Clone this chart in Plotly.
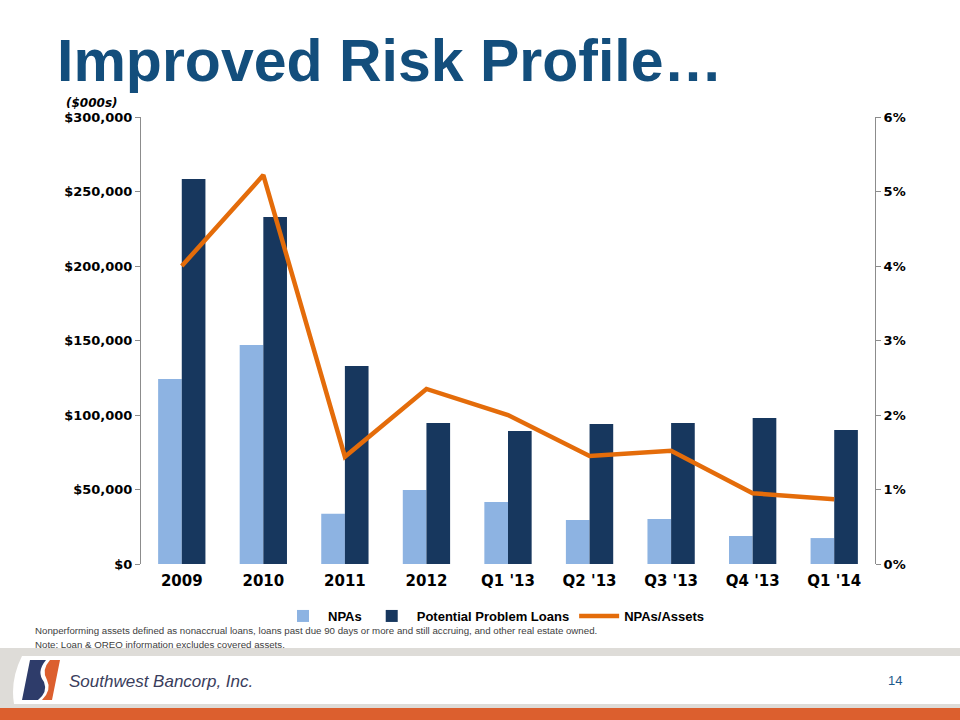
import plotly.graph_objects as go

categories = ["2009", "2010", "2011", "2012", "Q1 '13", "Q2 '13", "Q3 '13", "Q4 '13", "Q1 '14"]
npas = [124200, 147000, 33800, 49700, 41600, 29500, 30200, 18800, 17400]
potential_problem_loans = [258400, 232900, 132900, 94600, 89300, 94000, 94600, 98000, 90000]
npas_to_assets = [0.0400, 0.0522, 0.0144, 0.0235, 0.0200, 0.0145, 0.0152, 0.0095, 0.0087]

W, H = 960, 720
L, R, T, B = 141, 875, 117, 564


def px(x):
    return (x - L) / (R - L)


def py(y):
    return (B - y) / (B - T)


fig = go.Figure()
fig.add_trace(go.Bar(x=categories, y=npas, name="NPAs", marker_color="#8db3e2",
                     marker_line_width=0))
fig.add_trace(go.Bar(x=categories, y=potential_problem_loans, name="Potential Problem Loans",
                     marker_color="#17375e", marker_line_width=0))
fig.add_trace(go.Scatter(x=categories, y=npas_to_assets, name="NPAs/Assets", yaxis="y2",
                         mode="lines", line=dict(color="#e46c0a", width=4.5)))

tick_font = dict(family="DejaVu Sans", size=13, color="#000000", weight="bold")

shapes = [
    # footer gray band
    dict(type="rect", xref="paper", yref="paper", x0=px(0), x1=px(960), y0=py(720), y1=py(648),
         fillcolor="#dedcd8", line_width=0, layer="below"),
    # white panel
    dict(type="path", xref="paper", yref="paper",
         path=f"M {px(22)},{py(656)} L {px(960)},{py(656)} L {px(960)},{py(704)} L {px(14)},{py(704)} "
              f"Q {px(10)},{py(680)} {px(22)},{py(656)} Z",
         fillcolor="#ffffff", line_width=0, layer="below"),
    # orange bottom band
    dict(type="rect", xref="paper", yref="paper", x0=px(0), x1=px(960), y0=py(720), y1=py(708),
         fillcolor="#dc5f2e", line_width=0, layer="below"),
    # logo: dark blue part
    dict(type="path", xref="paper", yref="paper",
         path=f"M {px(22)},{py(700)} L {px(30)},{py(660)} L {px(46)},{py(660)} "
              f"Q {px(36)},{py(672)} {px(44)},{py(682)} Q {px(48)},{py(692)} {px(38)},{py(700)} Z",
         fillcolor="#2e3c6a", line_width=0),
    # logo: orange part
    dict(type="path", xref="paper", yref="paper",
         path=f"M {px(50)},{py(660)} L {px(60)},{py(660)} L {px(52)},{py(700)} L {px(42)},{py(700)} "
              f"Q {px(52)},{py(690)} {px(47)},{py(680)} Q {px(41)},{py(670)} {px(50)},{py(660)} Z",
         fillcolor="#dc5f2e", line_width=0),
]

annotations = [
    dict(text="<b>Improved Risk Profile…</b>", xref="paper", yref="paper", x=px(55), y=py(61),
         xanchor="left", yanchor="middle", showarrow=False,
         font=dict(family="Liberation Sans", size=59, color="#134e7c")),
    dict(text="<b><i>($000s)</i></b>", xref="paper", yref="paper", x=px(64), y=py(103),
         xanchor="left", yanchor="middle", showarrow=False,
         font=dict(family="DejaVu Sans", size=12, color="#000000")),
    dict(text="Nonperforming assets defined as nonaccrual loans, loans past due 90 days or more and still accruing, and other real estate owned.",
         xref="paper", yref="paper", x=px(33), y=py(630), xanchor="left", yanchor="middle",
         showarrow=False, font=dict(family="Liberation Sans", size=9.7, color="#404040")),
    dict(text="Note: Loan &amp; OREO information excludes covered assets.",
         xref="paper", yref="paper", x=px(33), y=py(644), xanchor="left", yanchor="middle",
         showarrow=False, font=dict(family="Liberation Sans", size=9.7, color="#404040")),
    dict(text="<i>Southwest Bancorp, Inc.</i>", xref="paper", yref="paper", x=px(67), y=py(681),
         xanchor="left", yanchor="middle", showarrow=False,
         font=dict(family="Liberation Sans", size=17, color="#3a3d5c")),
    dict(text="14", xref="paper", yref="paper", x=px(895), y=py(680),
         xanchor="center", yanchor="middle", showarrow=False,
         font=dict(family="Liberation Sans", size=13, color="#1f5a8c")),
]

fig.update_layout(
    width=W, height=H,
    margin=dict(l=L, r=W - R, t=T, b=H - B),
    paper_bgcolor="#ffffff", plot_bgcolor="#ffffff",
    barmode="group", bargap=0.42, bargroupgap=0,
    showlegend=True,
    legend=dict(orientation="h", x=px(494), y=py(616), xanchor="center", yanchor="middle",
                font=dict(family="Liberation Sans", size=13, color="#000000", weight="bold"),
                itemwidth=40, bgcolor="rgba(0,0,0,0)", traceorder="normal"),
    xaxis=dict(showgrid=False, showline=False, ticks="",
               tickfont=dict(family="DejaVu Sans", size=15, color="#000000", weight="bold"),
               ticklabelstandoff=6),
    yaxis=dict(range=[0, 300000], dtick=50000, tickprefix="$", tickformat=",d", showgrid=False,
               showline=True, linecolor="#8c8c8c", linewidth=1, ticks="outside", ticklen=5,
               tickcolor="#8c8c8c", tickfont=tick_font, zeroline=False),
    yaxis2=dict(range=[0, 0.06], dtick=0.01, tickformat=".0%", overlaying="y", side="right",
                showgrid=False, showline=True, linecolor="#8c8c8c", linewidth=1, ticks="outside",
                ticklen=5, tickcolor="#8c8c8c", tickfont=tick_font, zeroline=False),
    shapes=shapes,
    annotations=annotations,
)

fig.write_html("out.html", config={"displayModeBar": False},
               post_script="document.body.style.margin='0px';")
